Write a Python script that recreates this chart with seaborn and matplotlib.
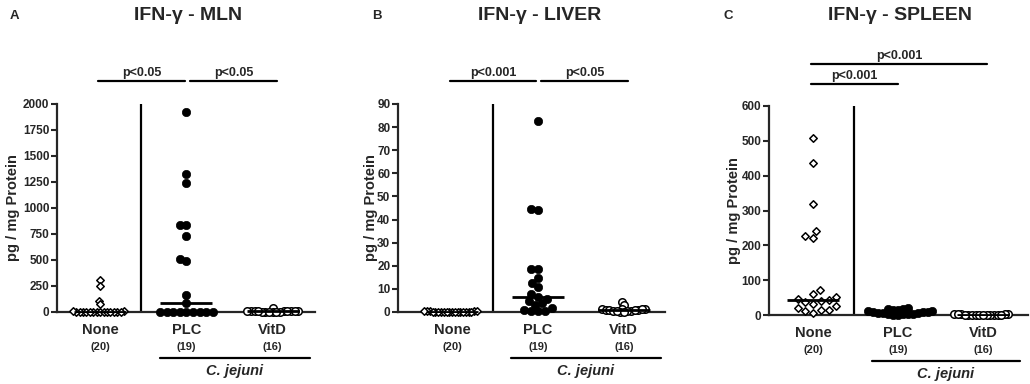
import numpy as np
import pandas as pd
import matplotlib
matplotlib.use("Agg")
import matplotlib.pyplot as plt
import matplotlib.transforms as mtransforms
import seaborn as sns

# ---------------- data ----------------
groups = ["None", "PLC", "VitD"]
group_n = ["(20)", "(19)", "(16)"]

none_mln = [310, 250, 110, 80, 0, 0, 2, 3, 0, 5, 1, 0, 4, 0, 6, 2, 0, 3, 1, 0]
plc_mln = [1920, 1330, 1240, 840, 840, 735, 510, 495, 165, 85, 0, 0, 0, 0, 0, 0, 0, 0, 0]
vitd_mln = [40, 12, 8, 5, 10, 3, 0, 6, 2, 9, 4, 0, 7, 1, 11, 5]

none_liver = [0.2, 0.1, 0.3, 0, 0.2, 0.4, 0.1, 0, 0.3, 0.2, 0.1, 0.2, 0, 0.3, 0.1, 0.2, 0.4, 0, 0.1, 0.2]
plc_liver = [82.5, 44.5, 44.0, 18.8, 18.5, 14.7, 12.5, 11.0, 7.8, 6.7, 5.8, 4.8, 4.0, 3.0, 1.8, 1.0, 0.3, 0.3, 0.3]
vitd_liver = [4.3, 3.1, 1.5, 1.2, 1.0, 0.8, 0.6, 0.5, 0.3, 0.2, 0.9, 1.3, 0.4, 0.7, 0.1, 1.1]

none_spleen = [508, 437, 320, 242, 226, 221, 72, 60, 52, 45, 42, 40, 38, 32, 25, 20, 15, 14, 11, 6]
plc_spleen = [20, 18, 16, 15, 14, 12, 11, 10, 9, 8, 7, 6, 5, 4, 3, 2, 2, 1, 0]
vitd_spleen = [4, 3, 2, 2, 1, 1, 1, 0.5, 0.5, 0, 0, 0, 1, 2, 0, 1]

titles = ["IFN-\u03b3 - MLN", "IFN-\u03b3 - LIVER", "IFN-\u03b3 - SPLEEN"]
letters = ["A", "B", "C"]
ymax = [2000, 90, 600]
ystep = [250, 10, 100]
pvals = [["p<0.05", "p<0.05"], ["p<0.001", "p<0.05"], ["p<0.001", "p<0.001"]]
ylabel = "pg / mg Protein"
infection = "C. jejuni"

panels = [
    [none_mln, plc_mln, vitd_mln],
    [none_liver, plc_liver, vitd_liver],
    [none_spleen, plc_spleen, vitd_spleen],
]

# ---------------- style ----------------
sns.set_style("ticks")
plt.rcParams["font.family"] = ["Liberation Sans", "DejaVu Sans"]
plt.rcParams["font.weight"] = "bold"
plt.rcParams["axes.labelweight"] = "bold"

W, H = 1030, 384
fig = plt.figure(figsize=(W / 100, H / 100), dpi=100)

# axes rectangles (pixels: left, bottom_y, right, top_y)
rects = [(57, 312, 315, 104), (398, 312, 665, 104), (769, 315, 1028, 106)]
xlims = [(-0.5, 2.49), (-0.63, 2.48), (-0.52, 2.53)]
dividers = [0.47, 0.48, 0.48]
ylabel_x = [-0.143, -0.075, -0.108]
title_x = [188, 540, 900]
letter_x = [10, 372, 723]

styles = [
    dict(marker="D", color="white", edgecolor="black", linewidth=1.1, draw=3.8),
    dict(marker="o", color="black", edgecolor="black", linewidth=0.5, draw=6.0),
    dict(marker="o", color="white", edgecolor="black", linewidth=1.1, draw=5.4),
]
# marker spacing used for the swarm layout (per panel, per group)
place_sizes = [
    [1.25, 4.0, 1.4],
    [0.8, 4.5, 1.4],
    [4.5, 3.0, 1.4],
]

swarm_colls = []
axes = []
for i, vals in enumerate(panels):
    l, b, r, t = rects[i]
    ax = fig.add_axes([l / W, (H - b) / H, (r - l) / W, (b - t) / H])
    axes.append(ax)
    df = pd.DataFrame({
        "group": sum([[g] * len(v) for g, v in zip(groups, vals)], []),
        "value": sum([list(v) for v in vals], []),
    })
    for j, (g, st) in enumerate(zip(groups, styles)):
        n0 = len(ax.collections)
        sns.swarmplot(data=df[df.group == g], x="group", y="value", order=groups,
                      marker=st["marker"], color=st["color"], edgecolor=st["edgecolor"],
                      linewidth=st["linewidth"], size=place_sizes[i][j],
                      ax=ax, clip_on=False, zorder=3)
        for coll in ax.collections[n0:]:
            swarm_colls.append((coll, st))
    sns.pointplot(data=df, x="group", y="value", order=groups, estimator="median",
                  errorbar=None, markers="_", linestyles="none", color="black",
                  markersize=37, markeredgewidth=2.0, ax=ax, zorder=4)
    ax.set_xlim(*xlims[i])
    ax.set_ylim(0, ymax[i])
    ax.set_yticks(np.arange(0, ymax[i] + 1, ystep[i]))
    ax.tick_params(axis="y", length=4, width=1.5, labelsize=8.5, pad=1.5)
    ax.tick_params(axis="x", length=0, labelsize=10.5, pad=8)
    for lab in ax.get_yticklabels() + ax.get_xticklabels():
        lab.set_fontweight("bold")
    for s in ["top", "right"]:
        ax.spines[s].set_visible(False)
    for s in ["left", "bottom"]:
        ax.spines[s].set_linewidth(1.6)
    ax.set_xlabel("")
    ax.set_ylabel(ylabel, fontsize=10.5, fontweight="bold")
    ax.yaxis.set_label_coords(ylabel_x[i], 0.5)
    ax.axvline(dividers[i], color="black", lw=1.6, zorder=2)

    trans = mtransforms.blended_transform_factory(ax.transData, ax.transAxes)
    for k, nlab in enumerate(group_n):
        ax.text(k, -0.166, nlab, transform=trans, ha="center", va="center",
                fontsize=8, fontweight="bold")
    ax.plot([0.69, 2.43], [-0.222, -0.222], transform=trans, color="black",
            lw=1.6, clip_on=False)
    ax.text(1.56, -0.282, infection, transform=trans, ha="center", va="center",
            fontsize=10.5, fontweight="bold", style="italic")

    # significance bars
    if i < 2:
        bars = [(-0.02, 0.98, 1.111), (1.04, 2.05, 1.111)]
    else:
        bars = [(-0.02, 1.0, 1.105), (-0.02, 2.05, 1.20)]
    for (x0, x1, yy), ptxt in zip(bars, pvals[i]):
        ax.plot([x0, x1], [yy, yy], transform=trans, color="black", lw=1.6,
                clip_on=False)
        ax.text((x0 + x1) / 2, yy + 0.01, ptxt, transform=trans, ha="center",
                va="bottom", fontsize=9, fontweight="bold")

    fig.text(title_x[i] / W, 1 - 16 / H, titles[i], ha="center", va="center",
             fontsize=14, fontweight="bold")
    fig.text(letter_x[i] / W, 1 - 16 / H, letters[i], ha="left", va="center",
             fontsize=9.5, fontweight="bold")

# compute swarm positions with the layout spacing, then set the drawn marker size
fig.canvas.draw()
for coll, st in swarm_colls:
    if "draw" in coll.__dict__:
        del coll.draw
    coll.set_sizes([st["draw"] ** 2])

fig.savefig("out.png", dpi=100)
